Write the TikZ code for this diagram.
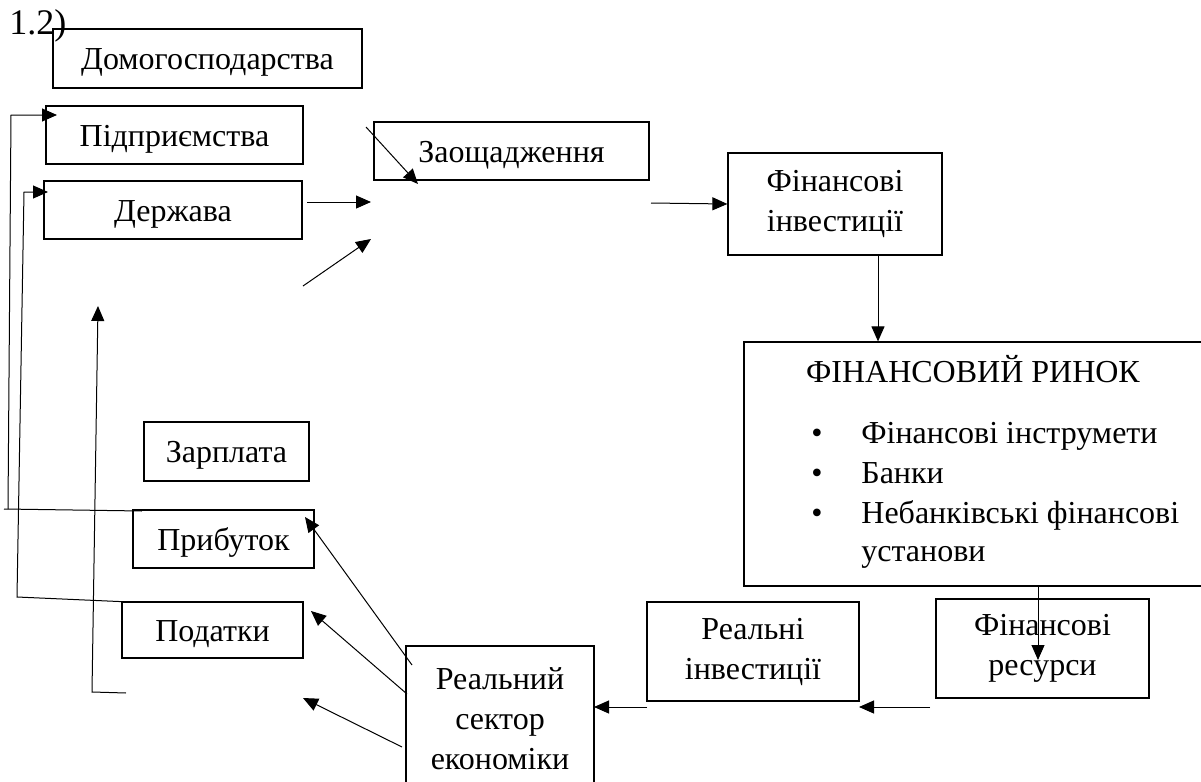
\documentclass[tikz,border=0pt]{standalone}
\usepackage{fontspec}
\setmainfont{Liberation Serif}
\usetikzlibrary{arrows.meta}
\begin{document}
\begin{tikzpicture}[x=0.5pt,y=-0.5pt,font=\fontsize{16}{20}\selectfont]
	\tikzstyle{box}     = [draw=black, line width=0.6pt, inner sep=0pt, text height=14pt, text depth=3pt]
	\tikzstyle{tallbox} = [draw=black, line width=0.6pt, inner sep=0pt, align=center]
	\tikzstyle{arr}     = [-{Triangle[length=7.5pt,width=6.5pt]}, line width=0.5pt]
	\useasboundingbox (0,0) rectangle (1201,782);

	\node[anchor=base west, inner sep=0pt, font=\fontsize{18}{20}\selectfont] (num) at (9,34) {1.2)};

	% one-line boxes
	\foreach \name/\x/\y/\w/\h/\txt in {dom/207.5/58.5/154.5/29.5/Домогосподарства, pidpr/174.5/135/128.5/29/Підприємства, derzh/173/210/129/29/Держава, zaosh/511.5/151/137.5/29/Заощадження, zarp/226.5/451.5/82.5/29.5/Зарплата, prib/223.5/539/90.5/29/Прибуток, podat/212.5/630/90.5/28/Податки}
		\node[box, minimum width=\w pt, minimum height=\h pt] (\name) at (\x,\y) {\txt};

	% boxes with several lines
	\foreach \name/\x/\y/\w/\h/\txt in {finv/835/204/107/51/Фінансові\\інвестиції, rinv/753/651.5/106/49.5/Реальні\\інвестиції, finres/1042.5/648.5/106.5/49.5/Фінансові\\ресурси, realsec/500/718.5/94/72.5/Реальний\\сектор\\економіки}
		\node[tallbox, minimum width=\w pt, minimum height=\h pt] (\name) at (\x,\y) {\txt};

	% financial market
	\node[draw=black, line width=0.6pt, inner sep=0pt, minimum width=229.5pt, minimum height=122pt] (market) at (973.5,464) {};
	\node[anchor=base, inner sep=0pt] (mtitle) at (973,382) {ФІНАНСОВИЙ РИНОК};
	\foreach \i/\y in {1/443, 2/483, 3/523}
		\node[anchor=base, inner sep=0pt] (bul\i) at (817,\y) {•};
	\foreach \name/\y/\txt in {it1/443/Фінансові інструмети, it2/483/Банки, it3/523/Небанківські фінансові, it4/561/установи}
		\node[anchor=base west, inner sep=0pt] (\name) at (861,\y) {\txt};

	% free ends of the connectors
	\foreach \n/\x/\y in {dz1/307/202, dz2/371/202, dg1/303/286, dg2/371/239, zs1/366/127, zs2/418/184, zf1/651/203, fmx/878/0, frx/1038/0, frtip/1038/660, ri1/930/707, ri2/859/707, rs1/647/707, rs2/594/707, pb1/412/665, pb2/305/517, pd1/407/694, pd2/311/611, pz1/402/747, pz2/303/698, la1/142/511, la2/4/509, la3/8/509, la4/11/115, la5/57/115, lb1/130/602, lb2/17/597, lb3/24/192, lb4/48/192, lc1/126/693, lc2/92/692, lc3/98/306}
		\coordinate (\n) at (\x,\y);

	\foreach \from/\to in {dz1/dz2, dg1/dg2, zs1/zs2, zf1/finv.west, ri1/ri2, rs1/rs2, pb1/pb2, pd1/pd2, pz1/pz2}
		\draw[arr] (\from) -- (\to);

	\draw[arr] (finv.south -| fmx) -- (market.north -| fmx);
	\draw[arr] (market.south -| frx) -- (frtip);

	\draw[line width=0.5pt] (la1) -- (la2);
	\draw[arr] (la3) -- (la4) -- (la5);
	\draw[arr] (lb1) -- (lb2) -- (lb3) -- (lb4);
	\draw[arr] (lc1) -- (lc2) -- (lc3);
\end{tikzpicture}
\end{document}
